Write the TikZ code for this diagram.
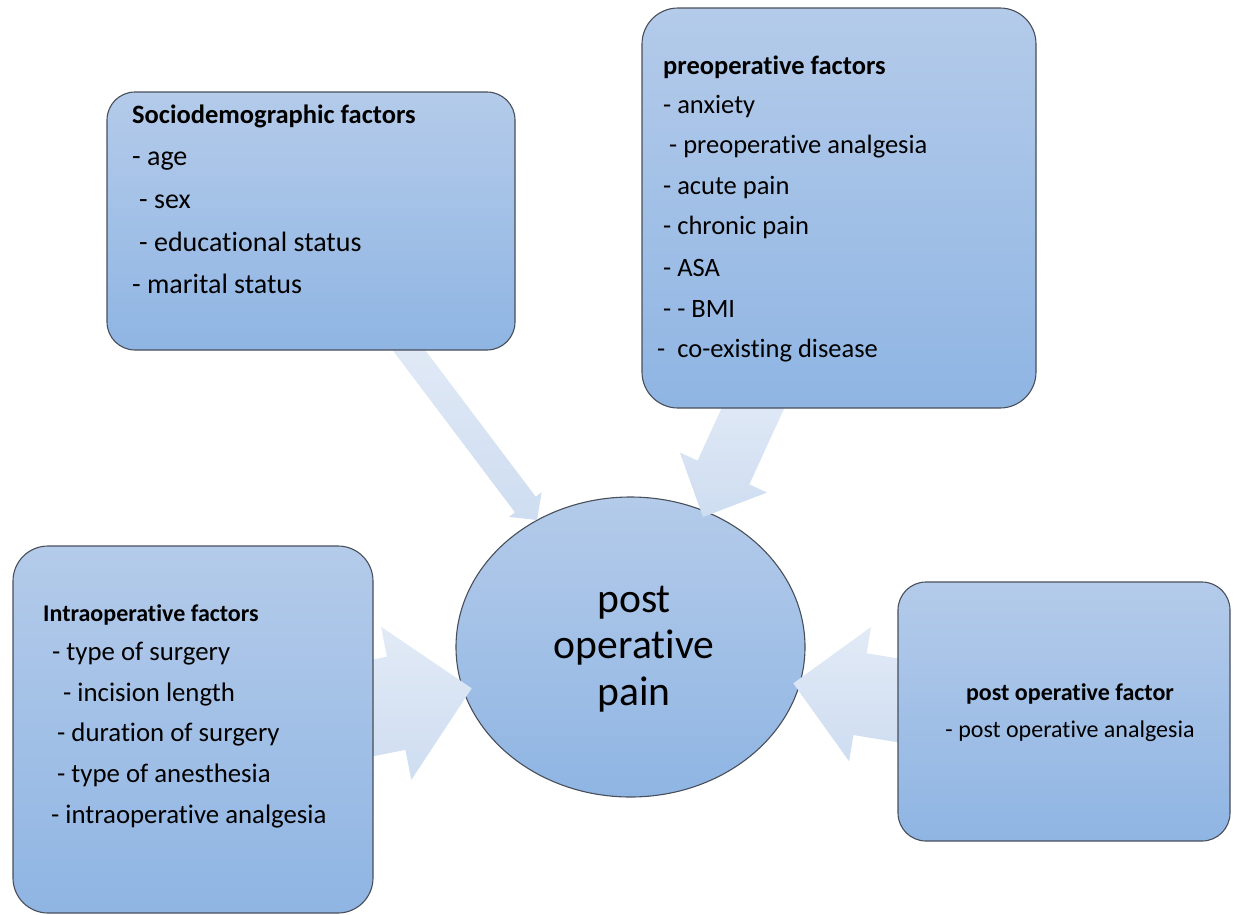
\documentclass[tikz,border=0pt]{standalone}
\usepackage{fontspec}
\setmainfont{Carlito}[Ligatures={TeX,NoCommon}]
\usetikzlibrary{calc,shapes.geometric}
\definecolor{boxtop}{RGB}{180,203,234}
\definecolor{boxbot}{RGB}{143,181,227}
\definecolor{arrtop}{RGB}{226,234,246}
\definecolor{arrbot}{RGB}{206,221,241}
\definecolor{edgecol}{RGB}{72,78,90}
\newcommand\blockarr[5]{%
  \coordinate (hb) at ($(#2)!#3!(#1)$);
  \path[arrowfill] ($(#1)!#4!90:(#2)$) -- ($(hb)!#4!90:(#2)$) -- ($(hb)!#5!90:(#2)$) -- (#2)
    -- ($(hb)!#5!-90:(#2)$) -- ($(hb)!#4!-90:(#2)$) -- ($(#1)!#4!-90:(#2)$) -- cycle;}
\tikzset{
  factorbox/.style={draw=edgecol, line width=1.1pt, top color=boxtop, bottom color=boxbot, inner sep=0pt},
  arrowfill/.style={top color=arrtop, bottom color=arrbot, draw=none},
  itemtxt/.style={anchor=base west, inner sep=0pt, font=\fontsize{26.5}{30}\selectfont},
  bigitem/.style={anchor=base west, inner sep=0pt, font=\fontsize{28}{32}\selectfont},
  headtxt/.style={anchor=base west, inner sep=0pt, font=\fontsize{26.5}{30}\selectfont\bfseries},
  smallitem/.style={inner sep=0pt, font=\fontsize{24}{28}\selectfont},
  smallhead/.style={inner sep=0pt, font=\fontsize{24}{28}\selectfont\bfseries},
  paintxt/.style={anchor=base, inner sep=0pt, font=\fontsize{41.6}{46}\selectfont}
}
\begin{document}
\begin{tikzpicture}[x=1pt,y=-1pt]
\useasboundingbox (0,0) rectangle (1235,914);
% centre ellipse
\node[factorbox, ellipse, minimum width=349pt, minimum height=300pt] (pain) at (630.5,647) {};
% block arrows (over the ellipse, under the boxes)
\coordinate (sS) at (399,337); \coordinate (sT) at (537,520);
\blockarr{sS}{sT}{19.4pt}{13pt}{20.5pt}
\coordinate (pS) at (759,395); \coordinate (pT) at (703,517);
\blockarr{pS}{pT}{49pt}{28.5pt}{48pt}
\coordinate (iS) at (356.6,711.1); \coordinate (iT) at (471.7,688.3);
\blockarr{iS}{iT}{77pt}{47.5pt}{78pt}
\coordinate (oS) at (909.3,702.2); \coordinate (oT) at (793.3,683.3);
\blockarr{oS}{oT}{67.6pt}{41.4pt}{68pt}
% boxes
\node[factorbox, rounded corners=28pt, minimum width=408pt, minimum height=258pt] (socio) at (311,221) {};
\node[factorbox, rounded corners=36pt, minimum width=394pt, minimum height=400pt] (preop) at (839,208) {};
\node[factorbox, rounded corners=35pt, minimum width=360pt, minimum height=367pt] (intra) at (193,729.5) {};
\node[factorbox, rounded corners=28pt, minimum width=332pt, minimum height=259pt] (postop) at (1064,711.5) {};
% socio text
\node[headtxt] (s0) at (132,123) {Sociodemographic factors};
\node[bigitem] (s1) at (132,165) {- age};
\node[bigitem] (s2) at (139,208) {- sex};
\node[bigitem] (s3) at (139,251) {- educational status};
\node[bigitem] (s4) at (132,293) {- marital status};
% preop text
\node[headtxt] (p0) at (663,74) {preoperative factors};
\node[itemtxt] (p1) at (663,113) {- anxiety};
\node[itemtxt] (p2) at (669,153) {- preoperative analgesia};
\node[itemtxt] (p3) at (663,194) {- acute pain};
\node[itemtxt] (p4) at (663,234) {- chronic pain};
\node[itemtxt] (p5) at (663,276) {- ASA};
\node[itemtxt] (p6) at (663,317) {- - BMI};
\node[itemtxt] (p7) at (657,357) {-~~co-existing disease};
% intraop text
\node[smallhead, anchor=base west] (i0) at (43,621) {Intraoperative factors};
\node[itemtxt, font=\fontsize{26.8}{30}\selectfont] (i1) at (52,660) {- type of surgery};
\node[itemtxt, font=\fontsize{26.8}{30}\selectfont] (i2) at (63,701) {- incision length};
\node[itemtxt, font=\fontsize{26.8}{30}\selectfont] (i3) at (57,741) {- duration of surgery};
\node[itemtxt, font=\fontsize{26.8}{30}\selectfont] (i4) at (57,782) {- type of anesthesia};
\node[itemtxt, font=\fontsize{26.8}{30}\selectfont] (i5) at (51,823) {- intraoperative analgesia};
% postop text
\node[smallhead, anchor=base] (o0) at (1070,700) {post operative factor};
\node[smallitem, anchor=base] (o1) at (1070,737) {- post operative analgesia};
% centre text
\node[paintxt] (c1) at (634,612) {post};
\node[paintxt] (c2) at (634,658) {operative};
\node[paintxt] (c3) at (634,705) {pain};
\end{tikzpicture}
\end{document}
